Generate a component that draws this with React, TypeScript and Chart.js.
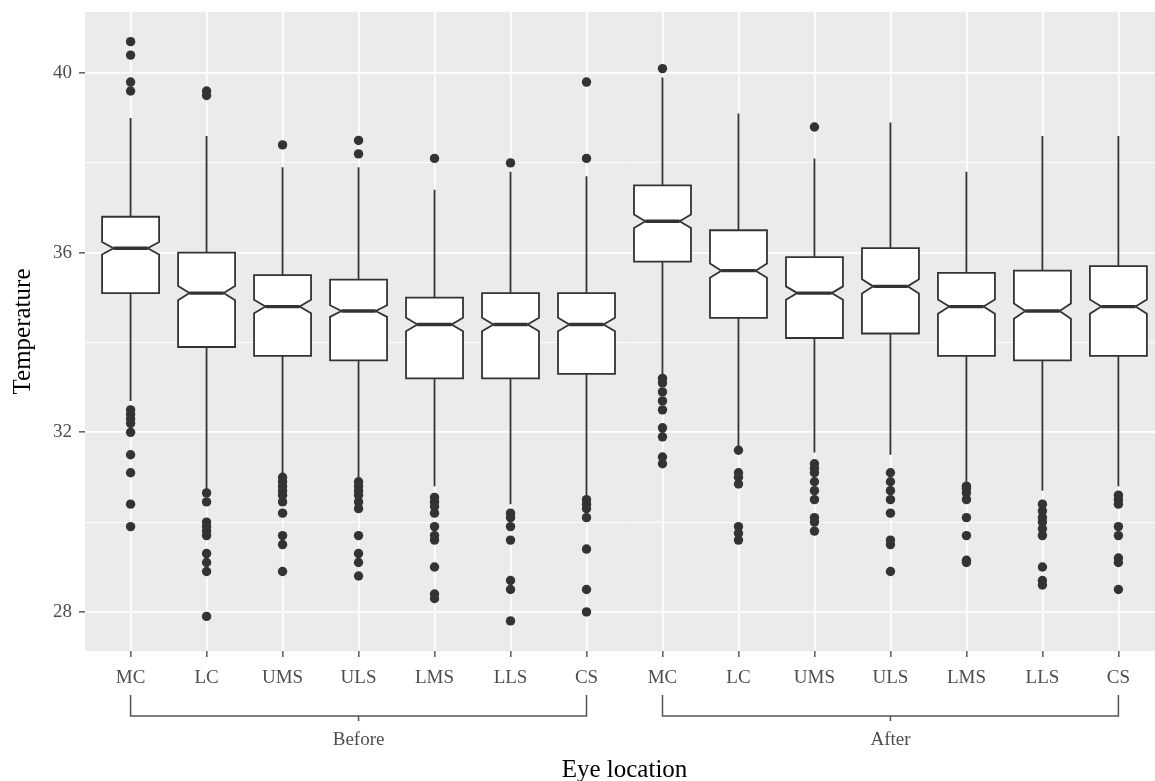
import React, { useEffect, useRef } from "react";
import { Chart, registerables } from "chart.js";

Chart.register(...registerables);

// ---------- data ----------
const groups = ["Before", "After"];
const locations = ["MC", "LC", "UMS", "ULS", "LMS", "LLS", "CS"];
const categories = [...locations, ...locations];
const yTicks = [28, 30, 32, 34, 36, 38, 40];
const yLabelTicks = [28, 32, 36, 40];

const whiskerLow = [32.7, 30.7, 31.0, 31.0, 30.8, 30.4, 30.6, 33.3, 31.6, 31.55, 31.5, 30.9, 30.7, 30.8];
const q1 = [35.1, 33.9, 33.7, 33.6, 33.2, 33.2, 33.3, 35.8, 34.55, 34.1, 34.2, 33.7, 33.6, 33.7];
const median = [36.1, 35.1, 34.8, 34.7, 34.4, 34.4, 34.4, 36.7, 35.6, 35.1, 35.25, 34.8, 34.7, 34.8];
const q3 = [36.8, 36.0, 35.5, 35.4, 35.0, 35.1, 35.1, 37.5, 36.5, 35.9, 36.1, 35.55, 35.6, 35.7];
const whiskerHigh = [39.0, 38.6, 37.9, 37.9, 37.4, 37.8, 37.7, 39.9, 39.1, 38.1, 38.9, 37.8, 38.6, 38.6];
const notchHalf = [0.14, 0.16, 0.15, 0.13, 0.15, 0.15, 0.15, 0.15, 0.16, 0.15, 0.16, 0.16, 0.17, 0.16];

const outliers = [
  [40.7, 40.4, 39.8, 39.6, 32.5, 32.4, 32.3, 32.2, 32.0, 31.5, 31.1, 30.4, 29.9],
  [39.6, 39.5, 30.65, 30.45, 30.0, 29.9, 29.8, 29.7, 29.3, 29.1, 28.9, 27.9],
  [38.4, 31.0, 30.9, 30.8, 30.7, 30.6, 30.45, 30.2, 29.7, 29.5, 28.9],
  [38.5, 38.2, 30.9, 30.8, 30.7, 30.6, 30.45, 30.3, 29.7, 29.3, 29.1, 28.8],
  [38.1, 30.55, 30.45, 30.35, 30.2, 29.9, 29.7, 29.6, 29.0, 28.4, 28.3],
  [38.0, 30.2, 30.1, 29.9, 29.6, 28.7, 28.5, 27.8],
  [39.8, 38.1, 30.5, 30.4, 30.3, 30.1, 29.4, 28.5, 28.0],
  [40.1, 33.2, 33.1, 32.9, 32.7, 32.5, 32.1, 31.9, 31.45, 31.3],
  [31.6, 31.1, 31.0, 30.85, 29.9, 29.75, 29.6],
  [38.8, 31.3, 31.2, 31.1, 30.9, 30.7, 30.5, 30.1, 30.0, 29.8],
  [31.1, 30.9, 30.7, 30.5, 30.2, 29.6, 29.5, 28.9],
  [30.8, 30.75, 30.65, 30.5, 30.1, 29.7, 29.15, 29.1],
  [30.4, 30.25, 30.1, 30.0, 29.85, 29.7, 29.0, 28.7, 28.6],
  [30.6, 30.5, 30.4, 29.9, 29.7, 29.2, 29.1, 28.5],
];

const xTitle = "Eye location";
const yTitle = "Temperature";

// ---------- styling ----------
const FONT = "'Liberation Serif', 'Times New Roman', serif";
const TICK_SIZE = 19;
const TITLE_SIZE = 25;
const BOX_WIDTH = 0.75;
const NOTCH_INDENT = 0.2;
const INK = "#333333";

const boxPlugin = {
  id: "notchedBoxes",
  beforeDraw(chart: any) {
    const { ctx, chartArea: a } = chart;
    ctx.save();
    ctx.fillStyle = "#EBEBEB";
    ctx.fillRect(a.left, a.top, a.right - a.left, a.bottom - a.top);
    ctx.restore();
  },
  beforeDatasetsDraw(chart: any) {
    const { ctx } = chart;
    const x = chart.scales.x;
    const y = chart.scales.y;
    const half = BOX_WIDTH / 2;
    ctx.save();
    ctx.strokeStyle = INK;
    ctx.lineJoin = "miter";
    categories.forEach((_, i) => {
      const cx = x.getPixelForValue(i);
      const x0 = x.getPixelForValue(i - half);
      const x1 = x.getPixelForValue(i + half);
      const ind = (x1 - x0) * NOTCH_INDENT;
      const yq1 = y.getPixelForValue(q1[i]);
      const yq3 = y.getPixelForValue(q3[i]);
      const ym = y.getPixelForValue(median[i]);
      const ynu = y.getPixelForValue(median[i] + notchHalf[i]);
      const ynl = y.getPixelForValue(median[i] - notchHalf[i]);
      ctx.lineWidth = 1.8;
      ctx.beginPath();
      ctx.moveTo(cx, y.getPixelForValue(whiskerHigh[i]));
      ctx.lineTo(cx, yq3);
      ctx.moveTo(cx, yq1);
      ctx.lineTo(cx, y.getPixelForValue(whiskerLow[i]));
      ctx.stroke();

      ctx.beginPath();
      ctx.moveTo(x0, yq3);
      ctx.lineTo(x0, ynu);
      ctx.lineTo(x0 + ind, ym);
      ctx.lineTo(x0, ynl);
      ctx.lineTo(x0, yq1);
      ctx.lineTo(x1, yq1);
      ctx.lineTo(x1, ynl);
      ctx.lineTo(x1 - ind, ym);
      ctx.lineTo(x1, ynu);
      ctx.lineTo(x1, yq3);
      ctx.closePath();
      ctx.fillStyle = "#FFFFFF";
      ctx.fill();
      ctx.stroke();

      ctx.lineWidth = 3.4;
      ctx.beginPath();
      ctx.moveTo(x0 + ind, ym);
      ctx.lineTo(x1 - ind, ym);
      ctx.stroke();
    });
    ctx.restore();
  },
  afterDraw(chart: any) {
    const { ctx, chartArea: a } = chart;
    const x = chart.scales.x;
    ctx.save();
    // group brackets
    ctx.strokeStyle = "#555555";
    ctx.lineWidth = 1.5;
    ctx.fillStyle = "#4D4D4D";
    ctx.font = `${TICK_SIZE}px ${FONT}`;
    ctx.textAlign = "center";
    ctx.textBaseline = "middle";
    groups.forEach((g, gi) => {
      const s = x.getPixelForValue(gi * locations.length);
      const e = x.getPixelForValue(gi * locations.length + locations.length - 1);
      const m = x.getPixelForValue(gi * locations.length + (locations.length - 1) / 2);
      ctx.beginPath();
      ctx.moveTo(s, a.bottom + 44);
      ctx.lineTo(s, a.bottom + 65);
      ctx.lineTo(e, a.bottom + 65);
      ctx.lineTo(e, a.bottom + 44);
      ctx.moveTo(m, a.bottom + 65);
      ctx.lineTo(m, a.bottom + 70);
      ctx.stroke();
      ctx.fillText(g, m, a.bottom + 89);
    });
    // axis titles
    ctx.fillStyle = "#000000";
    ctx.font = `${TITLE_SIZE}px ${FONT}`;
    ctx.fillText(xTitle, (a.left + a.right) / 2, a.bottom + 119);
    ctx.textBaseline = "alphabetic";
    ctx.translate(30, (a.top + a.bottom) / 2);
    ctx.rotate(-Math.PI / 2);
    ctx.fillText(yTitle, 0, 0);
    ctx.restore();
  },
};

export default function App() {
  const ref = useRef<HTMLCanvasElement | null>(null);
  useEffect(() => {
    if (!ref.current) return;
    const points = outliers.flatMap((arr, i) => arr.map((v) => ({ x: i, y: v })));
    const chart = new Chart(ref.current, {
      type: "scatter",
      data: {
        datasets: [
          {
            data: points,
            pointRadius: 4.7,
            pointHoverRadius: 4.7,
            backgroundColor: INK,
            borderWidth: 0,
            showLine: false,
          },
        ],
      },
      options: {
        animation: false,
        responsive: false,
        devicePixelRatio: 1,
        events: [],
        layout: { padding: { top: 12, right: 8, left: 0, bottom: 0 } },
        plugins: { legend: { display: false }, tooltip: { enabled: false } },
        scales: {
          x: {
            type: "linear",
            min: -0.6,
            max: 13.6,
            afterBuildTicks: (s: any) => {
              s.ticks = categories.map((_, i) => ({ value: i }));
            },
            afterFit: (s: any) => {
              s.height = 130;
              s.paddingLeft = 0;
              s.paddingRight = 0;
            },
            border: { display: false },
            grid: {
              color: "#FFFFFF",
              lineWidth: 1.7,
              tickColor: INK,
              tickLength: 6,
              tickWidth: 1.2,
            },
            ticks: {
              autoSkip: false,
              maxRotation: 0,
              padding: 10,
              color: "#4D4D4D",
              font: { family: FONT, size: TICK_SIZE },
              callback: (v: any) => categories[v as number] ?? "",
            },
          },
          y: {
            min: 27.13,
            max: 41.36,
            afterBuildTicks: (s: any) => {
              s.ticks = yTicks.map((v) => ({ value: v }));
            },
            afterFit: (s: any) => {
              s.width = 85;
              s.paddingTop = 0;
              s.paddingBottom = 0;
            },
            border: { display: false },
            grid: {
              color: "#FFFFFF",
              lineWidth: (c: any) => (yLabelTicks.includes(c.tick?.value) ? 1.7 : 0.85),
              tickColor: (c: any) => (yLabelTicks.includes(c.tick?.value) ? INK : "rgba(0,0,0,0)"),
              tickLength: 6,
              tickWidth: 1.2,
            },
            ticks: {
              padding: 7,
              color: "#4D4D4D",
              font: { family: FONT, size: TICK_SIZE },
              callback: (v: any) => (yLabelTicks.includes(v as number) ? String(v) : ""),
            },
          },
        },
      },
      plugins: [boxPlugin],
    });
    return () => chart.destroy();
  }, []);

  return (
    <div
      style={{
        position: "fixed",
        left: 0,
        top: 0,
        width: 1155,
        height: 781,
        overflow: "hidden",
        background: "#FFFFFF",
      }}
    >
      <canvas ref={ref} width={1172} height={781} style={{ width: 1172, height: 781, display: "block" }} />
    </div>
  );
}
